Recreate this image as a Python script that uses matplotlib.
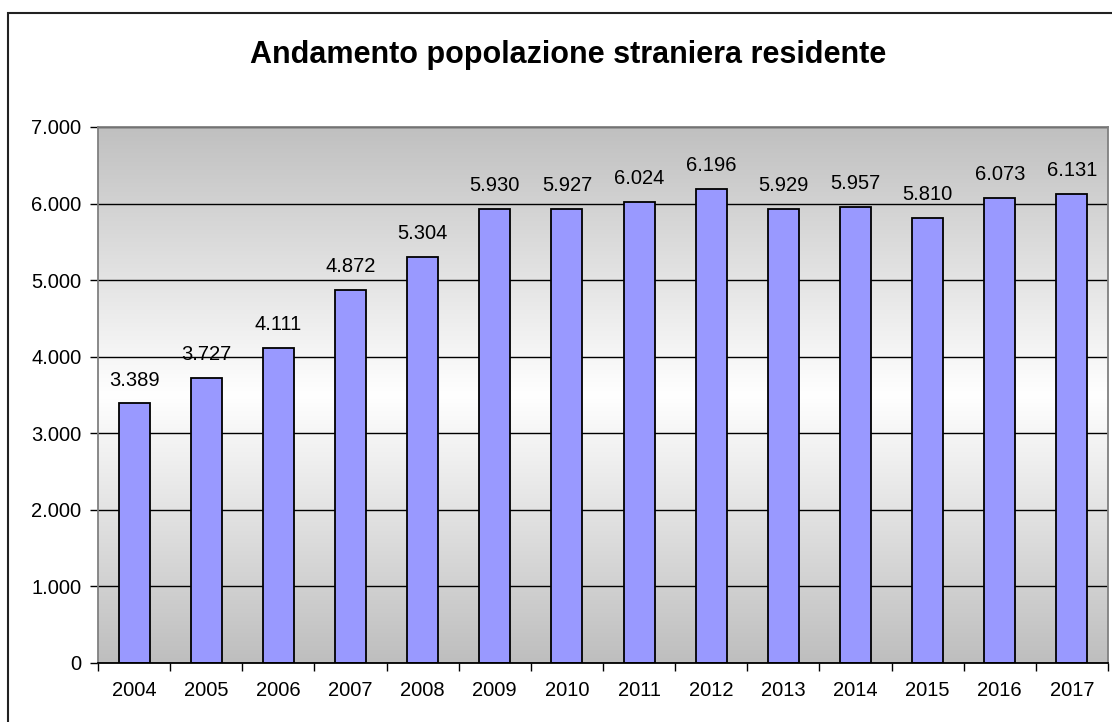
import numpy as np
import matplotlib
matplotlib.use("Agg")
import matplotlib.pyplot as plt
from matplotlib.colors import LinearSegmentedColormap
from matplotlib.patches import Rectangle
from matplotlib.ticker import FuncFormatter

plt.rcParams['font.family'] = ['Liberation Sans', 'DejaVu Sans']

anni = ['2004', '2005', '2006', '2007', '2008', '2009', '2010',
        '2011', '2012', '2013', '2014', '2015', '2016', '2017']
stranieri = [3389, 3727, 4111, 4872, 5304, 5930, 5927,
             6024, 6196, 5929, 5957, 5810, 6073, 6131]
y_ticks = [0, 1000, 2000, 3000, 4000, 5000, 6000, 7000]


def punto_migliaia(v, pos=None):
    # formato italiano: 6.196
    return f"{int(v):,}".replace(",", ".")


fig = plt.figure(figsize=(11.12, 7.22), dpi=100)
fig.patch.set_facecolor('white')

# cornice esterna del grafico
fig.add_artist(Rectangle((8 / 1112, -0.05), 1.2, 1 - 12.5 / 722 + 0.05,
                         transform=fig.transFigure, fill=False,
                         edgecolor='#222222', linewidth=1.5))

ax = fig.add_axes([98 / 1112, 1 - 663 / 722, 1010 / 1112, 536 / 722])

# sfondo sfumato: grigio in alto e in basso, bianco al centro
cmap = LinearSegmentedColormap.from_list(
    'sfondo', [(0, '#C0C0C0'), (0.5, '#FFFFFF'), (1, '#BEBEBE')])
grad = np.linspace(0, 1, 256).reshape(-1, 1)
ax.imshow(grad, cmap=cmap, aspect='auto', extent=[0, 1, 0, 1],
          transform=ax.transAxes, zorder=0, interpolation='bilinear')

x = np.arange(len(anni))
ax.bar(x, stranieri, width=0.43, color='#9999FF', edgecolor='black',
       linewidth=1.3, zorder=3)

for xi, v in zip(x, stranieri):
    ax.annotate(punto_migliaia(v), (xi, v), xytext=(0, 10),
                textcoords='offset points', ha='center', va='bottom',
                fontsize=14.5, zorder=4)

ax.set_xlim(-0.5, len(anni) - 0.5)
ax.set_ylim(0, 7000)
ax.set_yticks(y_ticks)
ax.yaxis.set_major_formatter(FuncFormatter(punto_migliaia))
ax.yaxis.grid(True, color='black', linewidth=1)
ax.set_axisbelow(False)
for line in ax.get_ygridlines():
    line.set_zorder(1)

ax.set_xticks(x)
ax.set_xticklabels(anni)
ax.set_xticks(np.arange(-0.5, len(anni)), minor=True)
ax.tick_params(axis='x', which='major', length=0, labelsize=14.5, pad=13)
ax.tick_params(axis='x', which='minor', length=6, width=1, color='black')
ax.tick_params(axis='y', length=6, width=1, color='black', labelsize=14.5, pad=6)

for side in ['top', 'right', 'left']:
    ax.spines[side].set_color('#808080')
    ax.spines[side].set_linewidth(1.3)
ax.spines['bottom'].set_color('black')
ax.spines['bottom'].set_linewidth(1.3)
for sp in ax.spines.values():
    sp.set_zorder(5)

fig.text(568 / 1112, 1 - 55 / 722, 'Andamento popolazione straniera residente',
         ha='center', va='center', fontsize=22, fontweight='bold')

fig.savefig('out.png', dpi=100)
